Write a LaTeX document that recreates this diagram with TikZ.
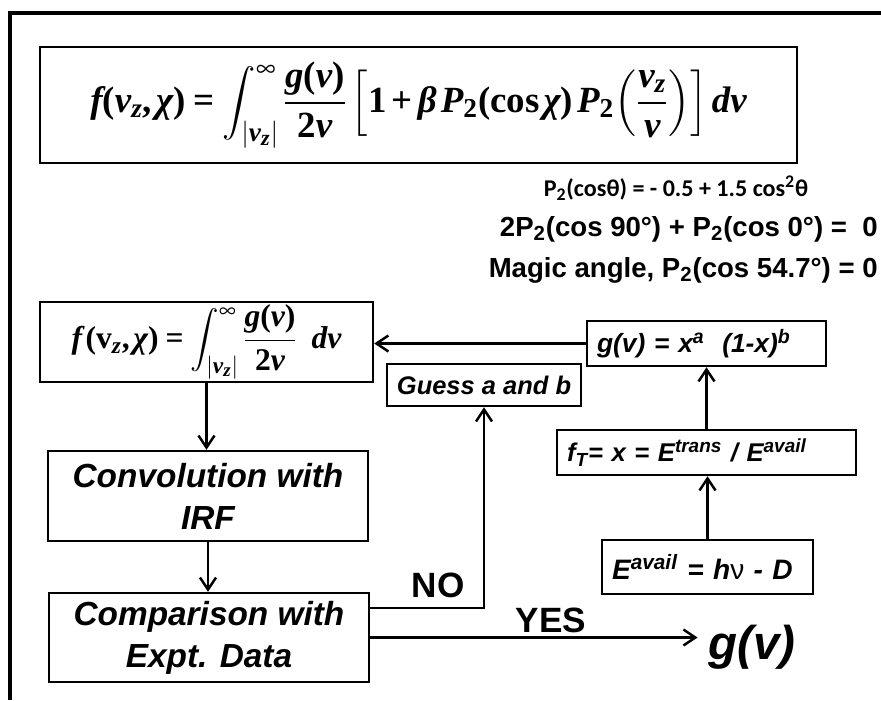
\documentclass[tikz,border=0pt]{standalone}
\usepackage{amsmath}
\usepackage{mathptmx}
\usepackage{fontspec}
\setmainfont{Liberation Serif}
\setsansfont{Liberation Sans}
\newfontfamily\calfont{Carlito}
\usetikzlibrary{arrows.meta,positioning}
\newcommand{\bi}[1]{\text{\rmfamily\bfseries\itshape #1}}
\newcommand{\bu}[1]{\text{\rmfamily\bfseries #1}}
\tikzset{
  flowbox/.style={draw=black,line width=1.4pt,inner sep=0pt,align=center,font=\sffamily\bfseries\itshape},
  leftbox/.style={flowbox,align=left,inner xsep=0.2cm},
  flowarr/.style={-{Straight Barb[length=2.4mm,width=3.2mm]},line width=1.4pt,black},
  plainlbl/.style={inner sep=0pt,font=\sffamily\bfseries},
}

\begin{document}
\begin{tikzpicture}[x=0.02cm,y=-0.02cm]
  \useasboundingbox (0,0) rectangle (881,700);
  \draw[line width=1.9pt] (881,13) -- (10,13) -- (10,700);
  % main formula
  \node[flowbox,minimum width=15.14cm,minimum height=2.32cm,font={\fontsize{21}{24}\selectfont}] (topeq) at (418.5,105)
    {$\displaystyle \bi{f}\bu{(}\bi{v}_{\bi{z}}\bu{,}\,\bi{χ}\bu{)}\mathrel{\bu{=}}\int_{|\bi{v}_{\bi{z}}|}^{\infty}\frac{\bi{g}\bu{(}\bi{v}\bu{)}}{\bu{2}\bi{v}}\left[\bu{1}\mathbin{\bu{+}}\bi{β}\,\bi{P}_{\bu{2}}\bu{(cos}\,\bi{χ}\bu{)}\,\bi{P}_{\bu{2}}\!\left(\frac{\bi{v}_{\bi{z}}}{\bi{v}}\right)\right]\bi{dv}$};
  \node[plainlbl,font={\calfont\bfseries\fontsize{13.7}{16}\selectfont}] (ptwo) at (676,188)
    {P\textsubscript{2}(cosθ) = - 0.5 + 1.5 cos\textsuperscript{2}θ};
  \node[plainlbl,anchor=east,font={\sffamily\bfseries\fontsize{15.7}{18}\selectfont}] (sumzero) at (878,229)
    {2P\textsubscript{2}(cos 90°) + P\textsubscript{2}(cos 0°) =\ \ 0};
  \node[plainlbl,anchor=east,font={\sffamily\bfseries\fontsize{15.7}{18}\selectfont}] (magic) at (878,270)
    {Magic angle, P\textsubscript{2}(cos 54.7°) = 0};
  % flow boxes
  \node[flowbox,minimum width=6.66cm,minimum height=1.6cm,font={\fontsize{18}{21}\selectfont}] (inteq) at (206.5,342)
    {$\displaystyle \bi{f}\,\bu{(}\bu{v}_{\bi{z}}\bu{,}\,\bi{χ}\bu{)}\mathrel{\bu{=}}\int_{|\bi{v}_{\bi{z}}|}^{\infty}\frac{\bi{g}\bu{(}\bi{v}\bu{)}}{\bu{2}\bi{v}}\;\;\bi{dv}$};
  \node[flowbox,minimum width=6.4cm,minimum height=1.8cm,font={\sffamily\bfseries\itshape\fontsize{19}{24}\selectfont}] (conv) at (208,496)
    {Convolution with\\IRF};
  \node[flowbox,minimum width=6.4cm,minimum height=1.78cm,font={\sffamily\bfseries\itshape\fontsize{19}{24}\selectfont}] (comp) at (209,637.5)
    {Comparison with\\Expt. Data};
  \node[flowbox,minimum width=3.88cm,minimum height=0.84cm,font={\sffamily\bfseries\itshape\fontsize{14.5}{17}\selectfont}] (guess) at (484,385)
    {Guess a and b};
  \node[leftbox,text width=4.38cm,minimum height=0.9cm,font={\sffamily\bfseries\itshape\fontsize{15}{18}\selectfont}] (gfun) at (706.5,343.5)
    {g(v) = x\textsuperscript{a}\ \ (1-x)\textsuperscript{b}};
  \node[leftbox,text width=5.58cm,minimum height=0.9cm,font={\sffamily\bfseries\itshape\fontsize{14.6}{17}\selectfont}] (ftbox) at (706.5,452.5)
    {f\textsubscript{T}= x = E\textsuperscript{trans} / E\textsuperscript{avail}};
  \node[leftbox,text width=3.82cm,minimum height=1.08cm,font={\sffamily\bfseries\itshape\fontsize{16}{19}\selectfont}] (eavail) at (707.5,567)
    {E\textsuperscript{avail} = h{\mdseries\upshape ν} - D};
  \node[inner sep=0pt,font={\sffamily\bfseries\itshape\fontsize{27}{30}\selectfont}] (gres) at (752,647) {g(v)};
  % connectors
  \draw[flowarr] (gfun.west) -- (inteq.east |- gfun.west);
  \draw[flowarr] (inteq.south) -- (inteq.south |- conv.north);
  \draw[flowarr] (conv.south) -- (conv.south |- comp.north);
  \coordinate (noturn) at (484,608);
  \draw[flowarr] (comp.east |- noturn) -- (noturn) -- (guess.south);
  \draw[flowarr] (comp.east) -- ([xshift=-6pt]comp.east -| gres.west);
  \draw[flowarr] (eavail.north) -- (eavail.north |- ftbox.south);
  \draw[flowarr] (ftbox.north) -- (ftbox.north |- gfun.south);
  \node[plainlbl,font={\sffamily\bfseries\fontsize{20}{22}\selectfont}] (nolbl) at (438,585) {NO};
  \node[plainlbl,font={\sffamily\bfseries\fontsize{20}{22}\selectfont}] (yeslbl) at (551,620) {YES};
\end{tikzpicture}
\end{document}
